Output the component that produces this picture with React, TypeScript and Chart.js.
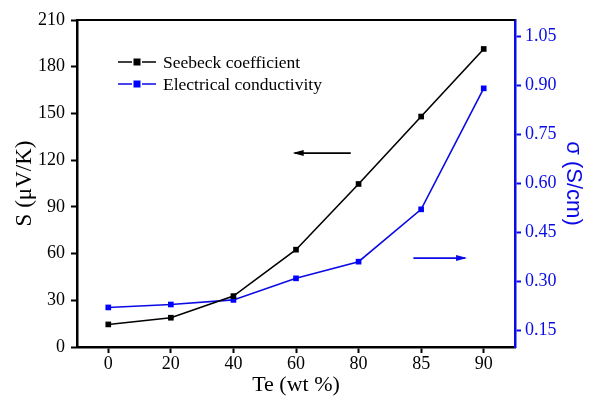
import React, { useEffect, useRef } from "react";
import { Chart, registerables } from "chart.js";

Chart.register(...registerables);

const categories = ["0", "20", "40", "60", "80", "85", "90"];
const seebeck = [14.5, 18.8, 32.7, 62.5, 104.7, 148, 191.4];
const conductivity = [0.221, 0.23, 0.244, 0.31, 0.361, 0.521, 0.891];
const rightTicks = [0.15, 0.3, 0.45, 0.6, 0.75, 0.9, 1.05];
const seriesNames = ["Seebeck coefficient", "Electrical conductivity"];

const BLACK = "#000000";
const BLUE = "#0a0ae6";
const FONT = "'Liberation Serif', 'Times New Roman', serif";
const SANS = "'Liberation Sans', Arial, sans-serif";

export default function App() {
  const ref = useRef<HTMLCanvasElement | null>(null);

  useEffect(() => {
    document.body.style.margin = "0";
    const canvas = ref.current;
    if (!canvas) return;

    const overlay = {
      id: "overlay",
      afterDraw(chart: any) {
        const ctx = chart.ctx;
        const a = chart.chartArea;
        ctx.save();
        // top frame
        ctx.strokeStyle = BLACK;
        ctx.lineWidth = 2;
        ctx.beginPath();
        ctx.moveTo(a.left - 1, a.top);
        ctx.lineTo(a.right, a.top);
        ctx.stroke();

        // legend
        const lx = a.left + 41;
        const ly0 = a.top + 42;
        const colors = [BLACK, BLUE];
        ctx.font = `17.5px ${FONT}`;
        ctx.textBaseline = "middle";
        seriesNames.forEach((name, i) => {
          const y = ly0 + i * 22;
          ctx.strokeStyle = colors[i];
          ctx.lineWidth = 1.4;
          ctx.beginPath();
          ctx.moveTo(lx, y);
          ctx.lineTo(lx + 14, y);
          ctx.moveTo(lx + 24, y);
          ctx.lineTo(lx + 38, y);
          ctx.stroke();
          ctx.fillStyle = i === 0 ? BLACK : "#0000ff";
          ctx.fillRect(lx + 15.5, y - 3.5, 7, 7);
          ctx.fillStyle = BLACK;
          ctx.textAlign = "left";
          ctx.fillText(name, lx + 45, y + 1);
        });

        // arrows
        const w = a.right - a.left;
        const h = a.bottom - a.top;
        const drawArrow = (x1: number, x2: number, y: number, color: string) => {
          ctx.strokeStyle = color;
          ctx.fillStyle = color;
          ctx.lineWidth = 1.8;
          ctx.beginPath();
          ctx.moveTo(x1, y);
          ctx.lineTo(x2, y);
          ctx.stroke();
          const dir = x2 > x1 ? 1 : -1;
          ctx.beginPath();
          ctx.moveTo(x2 + dir * 2, y);
          ctx.lineTo(x2 - dir * 9, y - 3);
          ctx.lineTo(x2 - dir * 9, y + 3);
          ctx.closePath();
          ctx.fill();
        };
        drawArrow(a.left + w * 0.625, a.left + w * 0.497, a.top + h * 0.407, BLACK);
        drawArrow(a.left + w * 0.768, a.left + w * 0.886, a.top + h * 0.728, BLUE);
        ctx.restore();
      },
    };

    const chart = new Chart(canvas, {
      type: "line",
      data: {
        labels: categories,
        datasets: [
          {
            label: seriesNames[0],
            data: seebeck,
            yAxisID: "y",
            borderColor: BLACK,
            backgroundColor: BLACK,
            borderWidth: 1.6,
            pointStyle: "rect",
            pointRadius: 4,
            pointBackgroundColor: BLACK,
            pointBorderColor: BLACK,
            pointBorderWidth: 0,
            tension: 0,
          },
          {
            label: seriesNames[1],
            data: conductivity,
            yAxisID: "y1",
            borderColor: BLUE,
            backgroundColor: "#0000ff",
            borderWidth: 1.6,
            pointStyle: "rect",
            pointRadius: 4,
            pointBackgroundColor: "#0000ff",
            pointBorderColor: "#0000ff",
            pointBorderWidth: 0,
            tension: 0,
          },
        ],
      },
      options: {
        responsive: false,
        animation: false,
        maintainAspectRatio: false,
        layout: { padding: { top: 20, left: 0, right: 0, bottom: 0 } },
        plugins: {
          legend: { display: false },
          tooltip: { enabled: false },
        },
        scales: {
          x: {
            type: "category",
            offset: true,
            grid: {
              display: true,
              drawOnChartArea: false,
              drawTicks: true,
              tickLength: 6,
              tickWidth: 2,
              tickColor: BLACK,
              offset: false,
            },
            border: { display: true, color: BLACK, width: 2.5 },
            ticks: { color: BLACK, font: { family: FONT, size: 18 }, padding: 0 },
            title: {
              display: true,
              text: "Te (wt %)",
              color: BLACK,
              font: { family: FONT, size: 22 },
              padding: { top: 0, bottom: 1 },
            },
            afterFit(scale: any) {
              scale.height = 52;
            },
          },
          y: {
            type: "linear",
            position: "left",
            min: 0,
            max: 210,
            grid: {
              display: true,
              drawOnChartArea: false,
              drawTicks: true,
              tickLength: 6,
              tickWidth: 2,
              tickColor: BLACK,
            },
            border: { display: true, color: BLACK, width: 2.5 },
            ticks: { stepSize: 30, color: BLACK, font: { family: FONT, size: 18 }, padding: 6 },
            title: {
              display: true,
              text: "S (μV/K)",
              color: BLACK,
              font: { family: FONT, size: 23 },
              padding: { top: 11, bottom: 0 },
            },
            afterFit(scale: any) {
              scale.width = 77;
            },
          },
          y1: {
            type: "linear",
            position: "right",
            min: 0.1,
            max: 1.1,
            grid: {
              display: true,
              drawOnChartArea: false,
              drawTicks: true,
              tickLength: 6,
              tickWidth: 2,
              tickColor: BLUE,
            },
            border: { display: true, color: BLUE, width: 2.5 },
            ticks: {
              color: BLUE,
              font: { family: FONT, size: 18 },
              padding: 4,
              callback: (v: any) => Number(v).toFixed(2),
            },
            afterBuildTicks(scale: any) {
              scale.ticks = rightTicks.map((v) => ({ value: v }));
            },
            title: {
              display: true,
              text: "σ (S/cm)",
              color: BLUE,
              font: { family: SANS, size: 22 },
              padding: { top: 9, bottom: 0 },
            },
            afterFit(scale: any) {
              scale.width = 80;
            },
          },
        },
      },
      plugins: [overlay],
    });

    return () => chart.destroy();
  }, []);

  return (
    <div style={{ width: 595, height: 399, background: "#fff" }}>
      <canvas ref={ref} width={595} height={399} style={{ display: "block" }} />
    </div>
  );
}
